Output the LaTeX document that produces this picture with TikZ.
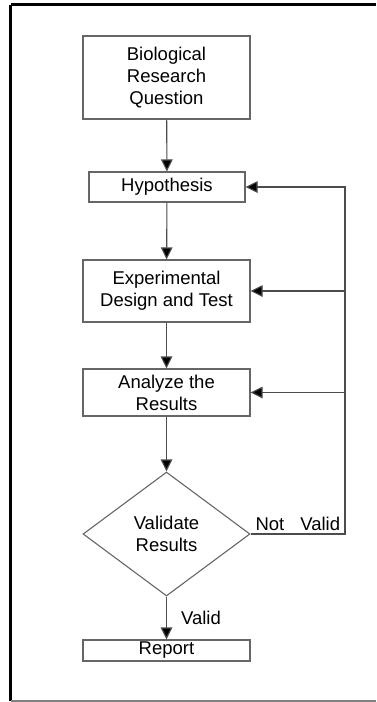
\documentclass[tikz,border=0pt]{standalone}
\usepackage{fontspec}
\setmainfont{Liberation Sans}
\usetikzlibrary{shapes.geometric,arrows.meta}

\begin{document}
\begin{tikzpicture}[x=1pt,y=-1pt,
	box/.style={draw=black!60,line width=1.1pt,minimum width=167pt,inner sep=0pt,align=center,font=\fontsize{18.5}{22}\selectfont},
	decision/.style={diamond,draw=black!60,line width=1.1pt,minimum width=167pt,minimum height=124pt,aspect=1.35,inner sep=0pt,align=center,font=\fontsize{18.5}{22}\selectfont},
	flow/.style={draw=black!70,line width=1.1pt,-{Triangle[length=12pt,width=11.5pt,fill=black]}},
	lbl/.style={font=\fontsize{18.5}{22}\selectfont,inner sep=1pt}]
	\useasboundingbox (0,0) rectangle (376,702);
	% frame
	\draw[line width=3pt] (10.5,4.5) -- (376,4.5);
	\draw[line width=3pt] (10.5,4.5) -- (10.5,701);
	\draw[black!50,line width=1.5pt] (10.5,701) -- (376,701);
	% steps
	\node[box,minimum height=83pt] (question) at (166.5,77.5) {Biological\\Research\\Question};
	\node[box,minimum width=156pt,minimum height=30pt] (hyp) at (167,187) {Hypothesis};
	\node[box,minimum height=62pt] (design) at (166.5,291) {Experimental\\Design and Test};
	\node[box,minimum height=47pt] (analyze) at (166.5,392.5) {Analyze the\\Results};
	\node[decision] (validate) at (166.5,534) {Validate\\Results};
	\node[box,minimum height=21pt] (report) at (166.5,650.5) {Report};
	\coordinate (turn) at (345,534);
	% connectors
	\draw[flow] (question) -- (hyp);
	\draw[flow] (hyp) -- (design);
	\draw[flow] (design) -- (analyze);
	\draw[flow] (analyze) -- (validate);
	\draw[flow] (validate) -- node[lbl,right=13pt] {Valid} (report);
	\draw[flow] (validate.east) -- node[lbl,above=2pt] {Not\hspace{16pt}Valid} (turn) |- (hyp);
	\draw[flow] (design.east -| turn) -- (design);
	\draw[flow] (analyze.east -| turn) -- (analyze);
\end{tikzpicture}
\end{document}
